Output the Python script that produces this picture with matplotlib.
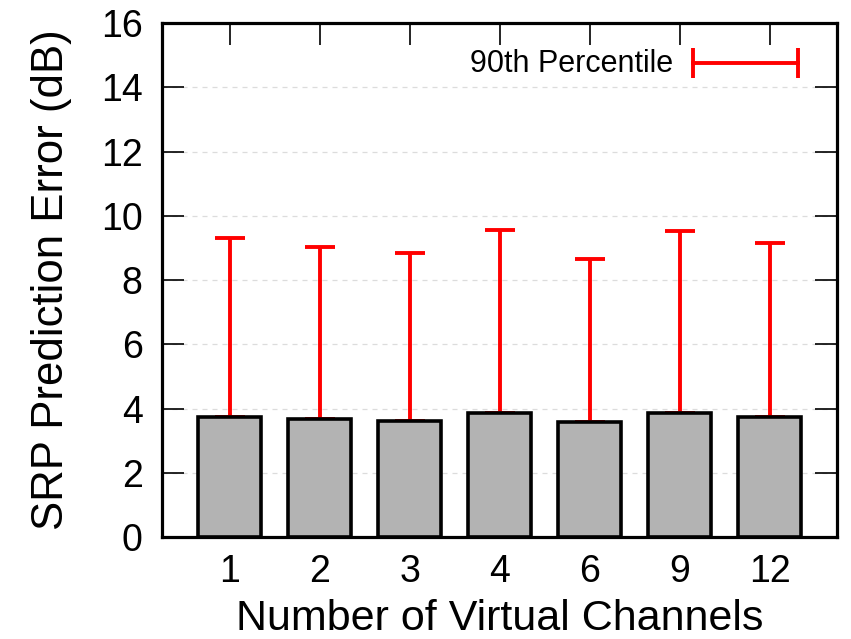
import numpy as np
import matplotlib.pyplot as plt

plt.rcParams['font.family'] = ['Liberation Sans', 'DejaVu Sans']

# number of virtual channels and SRP prediction error (dB)
channels = ['1', '2', '3', '4', '6', '9', '12']
err_mean = [3.75, 3.68, 3.62, 3.87, 3.59, 3.87, 3.74]
err_p90 = [9.32, 9.04, 8.83, 9.55, 8.64, 9.53, 9.14]

fig = plt.figure(figsize=(8.51, 6.39), dpi=100)
ax = fig.add_axes([0.1904, 0.1596, 0.7932, 0.8044])

x = np.arange(len(channels))
upper = np.array(err_p90) - np.array(err_mean)
ax.errorbar(x, err_mean, yerr=[np.zeros(len(x)), upper], fmt='none',
            ecolor='#ff0000', elinewidth=2.8, capsize=11, capthick=2.8, zorder=2)
ax.bar(x, err_mean, width=0.7, color='#b3b3b3', edgecolor='black',
       linewidth=2.6, zorder=3)

ax.set_xlim(-0.75, 6.75)
ax.set_ylim(0, 16)
ax.set_yticks(np.arange(0, 17, 2))
ax.set_xticks(x)
ax.set_xticklabels(channels)

ax.yaxis.grid(True, linestyle=(0, (4, 4)), color='#dcdcdc', linewidth=0.9, zorder=0)
ax.set_axisbelow(True)

for s in ax.spines.values():
    s.set_linewidth(2.3)

ax.tick_params(axis='y', direction='in', left=True, right=True, length=16,
               width=1.2, labelsize=27, pad=14)
ax.tick_params(axis='x', direction='in', top=True, bottom=False, length=16,
               width=1.2, labelsize=27, pad=12)

ax.set_xlabel('Number of Virtual Channels', fontsize=31, labelpad=7)
ax.set_ylabel('SRP Prediction Error (dB)', fontsize=31.5)
ax.yaxis.set_label_coords(-0.133, 0.5)

# legend key for the 90th percentile bars
ax.text(0.757, 0.92, '90th Percentile', transform=ax.transAxes,
        ha='right', va='center', fontsize=22)
ax.plot([0.787, 0.942], [0.922, 0.922], transform=ax.transAxes,
        color='#ff0000', linewidth=2.8)
ax.plot([0.787, 0.942], [0.922, 0.922], transform=ax.transAxes, linestyle='none',
        marker='|', markersize=22, markeredgewidth=2.8, color='#ff0000')

fig.savefig('out.png', dpi=100)
